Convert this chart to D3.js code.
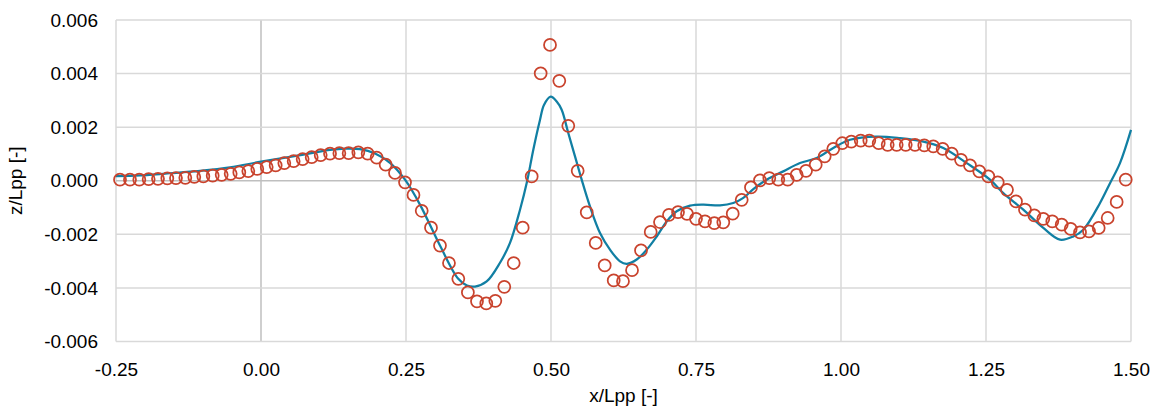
<!DOCTYPE html>
<html>
<head>
<meta charset="utf-8">
<script src="https://cdn.jsdelivr.net/npm/d3@7"></script>
<style>
  html, body { margin: 0; padding: 0; background: #ffffff; }
  svg { display: block; font-family: "Liberation Sans", Arial, sans-serif; }
</style>
</head>
<body>
<svg id="chart" width="1159" height="417"></svg>
<script>
// ---- data ----
const xTicks = [-0.25, 0, 0.25, 0.5, 0.75, 1.0, 1.25, 1.5];
const yTicks = [-0.006, -0.004, -0.002, 0, 0.002, 0.004, 0.006];
const xTitle = "x/Lpp [-]";
const yTitle = "z/Lpp [-]";

// measured (circles)
const measX = [-0.2431,-0.2259,-0.2098,-0.1937,-0.1776,-0.1615,-0.1466,-0.1305,-0.1150,-0.0994,
  -0.0833,-0.0678,-0.0523,-0.0374,-0.0219,-0.0064,0.0098,0.0253,0.0402,0.0563,
  0.0718,0.0874,0.1029,0.1190,0.1351,0.1511,0.1678,0.1839,0.1994,0.2149,
  0.2310,0.2483,0.2629,0.2771,0.2931,0.3086,0.3241,0.3402,0.3567,0.3724,
  0.3884,0.4040,0.4195,0.4357,0.4512,0.4667,0.4822,0.4983,0.5143,0.5298,
  0.5460,0.5616,0.5771,0.5926,0.6081,0.6241,0.6397,0.6552,0.6719,0.6879,
  0.7034,0.7190,0.7345,0.7500,0.7655,0.7816,0.7971,0.8133,0.8288,0.8448,
  0.8603,0.8764,0.8919,0.9081,0.9236,0.9397,0.9564,0.9719,0.9867,1.0022,
  1.0178,1.0340,1.0488,1.0650,1.0805,1.0960,1.1116,1.1276,1.1436,1.1591,
  1.1753,1.1909,1.2069,1.2224,1.2384,1.2540,1.2702,1.2862,1.3017,1.3172,
  1.3333,1.3488,1.3643,1.3805,1.3960,1.4121,1.4276,1.4443,1.4598,1.4753,
  1.4909];
const measZ = [0.00004,0.00004,0.00004,0.00006,0.00007,0.00009,0.00010,0.00011,0.00014,0.00016,
  0.00019,0.00022,0.00026,0.00031,0.00036,0.00044,0.00051,0.00057,0.00066,0.00073,
  0.00081,0.00088,0.00096,0.00101,0.00103,0.00103,0.00106,0.00101,0.00086,0.00060,
  0.00029,-0.00006,-0.00053,-0.00112,-0.00175,-0.00242,-0.00307,-0.00366,-0.00417,-0.00450,
  -0.00458,-0.00448,-0.00396,-0.00307,-0.00175,0.00016,0.00401,0.00507,0.00373,0.00205,
  0.00037,-0.00118,-0.00232,-0.00316,-0.00372,-0.00375,-0.00334,-0.00260,-0.00191,-0.00154,
  -0.00127,-0.00117,-0.00124,-0.00142,-0.00152,-0.00158,-0.00155,-0.00123,-0.00071,-0.00025,
  0.00001,0.00010,0.00004,0.00004,0.00022,0.00037,0.00060,0.00091,0.00119,0.00140,
  0.00146,0.00150,0.00150,0.00140,0.00134,0.00134,0.00134,0.00134,0.00132,0.00128,
  0.00119,0.00101,0.00078,0.00057,0.00035,0.00016,-0.00006,-0.00034,-0.00077,-0.00108,
  -0.00129,-0.00142,-0.00152,-0.00164,-0.00180,-0.00193,-0.00189,-0.00176,-0.00139,-0.00079,
  0.00004];

// computed (line)
const calcX = [-0.25,-0.2086,-0.1569,-0.1052,-0.0534,0.0,0.05,0.0845,0.1190,0.1448,
  0.1707,0.1966,0.2224,0.2483,0.2741,0.3086,0.3397,0.3552,0.3690,0.3891,
  0.4121,0.4293,0.4466,0.4586,0.4695,0.4810,0.4879,0.4995,0.5098,0.5184,
  0.5298,0.5414,0.5529,0.5672,0.5845,0.6017,0.6190,0.6305,0.6478,0.6650,
  0.6822,0.6995,0.7167,0.7397,0.7626,0.7914,0.8143,0.8316,0.8488,0.8719,
  0.9005,0.9293,0.9581,0.9867,1.0155,1.0616,1.1017,1.1419,1.1764,1.2167,
  1.2569,1.2798,1.3143,1.3488,1.3776,1.4005,1.4178,1.4466,1.4638,1.4810,
  1.5];
const calcZ = [0.00017,0.00020,0.00028,0.00037,0.00050,0.00071,0.00089,0.00102,0.00115,0.00120,
  0.00118,0.00102,0.00067,0.00004,-0.00089,-0.00242,-0.00365,-0.00391,-0.00395,-0.00376,
  -0.00306,-0.00232,-0.00108,-0.00004,0.00116,0.00227,0.00283,0.00314,0.00296,0.00265,
  0.00178,0.00091,0.00004,-0.00096,-0.00195,-0.00257,-0.00301,-0.00310,-0.00294,-0.00257,
  -0.00208,-0.00152,-0.00114,-0.00093,-0.00089,-0.00092,-0.00083,-0.00064,-0.00031,0.00004,
  0.00035,0.00066,0.00085,0.00122,0.00153,0.00165,0.00159,0.00146,0.00122,0.00066,
  0.00004,-0.00046,-0.00108,-0.00176,-0.00220,-0.00208,-0.00183,-0.00083,-0.00009,0.00066,
  0.00190];

// ---- layout ----
const W = 1159, H = 417;
const margin = { left: 116, right: 28, top: 20, bottom: 75.5 };
const svg = d3.select("#chart");

const x = d3.scaleLinear().domain([-0.25, 1.5]).range([margin.left, W - margin.right]);
const y = d3.scaleLinear().domain([-0.006, 0.006]).range([H - margin.bottom, margin.top]);

const fontSize = 19;
const hyphen = f => v => f(v).replace("\u2212", "-");

// gridlines
const grid = svg.append("g");
grid.selectAll("line.vx").data(xTicks).enter().append("line")
  .attr("x1", d => x(d)).attr("x2", d => x(d))
  .attr("y1", y(-0.006)).attr("y2", y(0.006))
  .attr("stroke", d => d === 0 ? "#bfbfbf" : "#d9d9d9")
  .attr("stroke-width", 1.5);
grid.selectAll("line.hy").data(yTicks).enter().append("line")
  .attr("x1", x(-0.25)).attr("x2", x(1.5))
  .attr("y1", d => y(d)).attr("y2", d => y(d))
  .attr("stroke", d => d === 0 ? "#bfbfbf" : "#d9d9d9")
  .attr("stroke-width", 1.5);

// axes (labels only)
const xAxis = d3.axisBottom(x).tickValues(xTicks).tickFormat(hyphen(d3.format(".2f"))).tickSize(0).tickPadding(21);
const gx = svg.append("g").attr("transform", `translate(0,${y(-0.006)})`).call(xAxis);
gx.select(".domain").remove();
gx.selectAll("text").attr("font-size", fontSize).attr("fill", "#000")
  .attr("font-family", "'Liberation Sans', Arial, sans-serif");

const yAxis = d3.axisLeft(y).tickValues(yTicks).tickFormat(hyphen(d3.format(".3f"))).tickSize(0).tickPadding(18);
const gy = svg.append("g").attr("transform", `translate(${x(-0.25)},0)`).call(yAxis);
gy.select(".domain").remove();
gy.selectAll("text").attr("font-size", fontSize).attr("fill", "#000")
  .attr("font-family", "'Liberation Sans', Arial, sans-serif");

// line
const lineData = calcX.map((d, i) => [d, calcZ[i]]);
svg.append("path")
  .datum(lineData)
  .attr("fill", "none")
  .attr("stroke", "#117fa3")
  .attr("stroke-width", 2.25)
  .attr("stroke-linejoin", "round")
  .attr("d", d3.line().x(d => x(d[0])).y(d => y(d[1])).curve(d3.curveCatmullRom.alpha(0.5)));

// markers
const pts = measX.map((d, i) => [d, measZ[i]]);
svg.append("g").selectAll("circle").data(pts).enter().append("circle")
  .attr("cx", d => x(d[0])).attr("cy", d => y(d[1]))
  .attr("r", 6)
  .attr("fill", "none")
  .attr("stroke", "#c9432d")
  .attr("stroke-width", 1.75);

// titles
svg.append("text")
  .attr("x", (x(-0.25) + x(1.5)) / 2).attr("y", 402)
  .attr("text-anchor", "middle")
  .attr("font-size", fontSize)
  .attr("fill", "#000")
  .text(xTitle);

svg.append("text")
  .attr("transform", `translate(22,${(y(-0.006) + y(0.006)) / 2}) rotate(-90)`)
  .attr("text-anchor", "middle")
  .attr("font-size", fontSize)
  .attr("fill", "#000")
  .text(yTitle);
</script>
</body>
</html>
